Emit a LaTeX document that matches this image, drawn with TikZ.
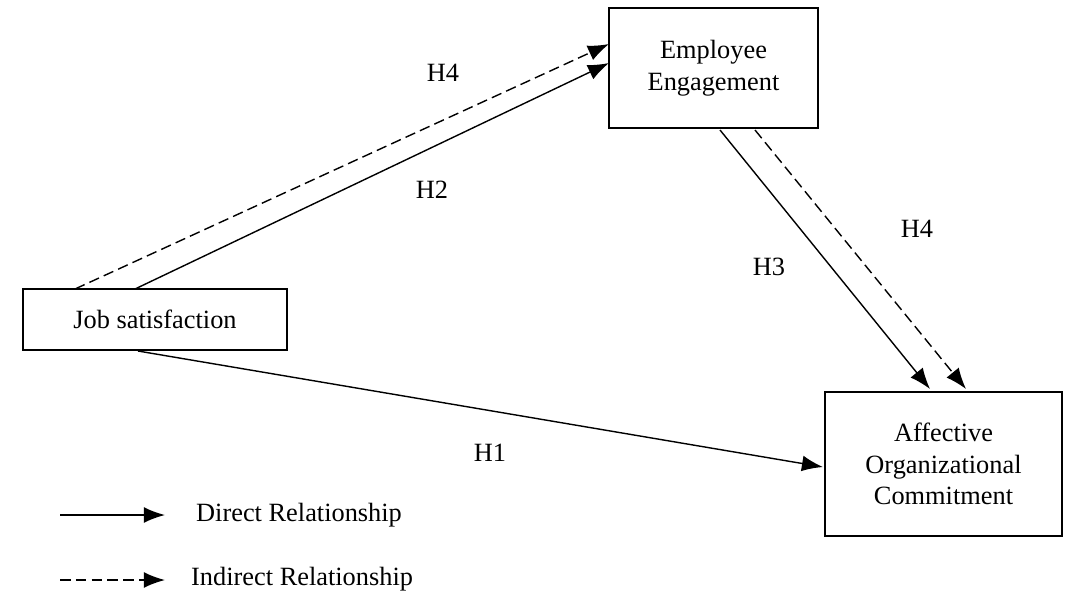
\documentclass[tikz,border=0pt]{standalone}
\usepackage{fontspec}
\setmainfont{Liberation Serif}
\usetikzlibrary{arrows.meta}

\begin{document}
\begin{tikzpicture}[%
        x = 0.02cm,
        y = -0.02cm,
        > = {Latex[length=12pt,width=9pt]},
        font = \fontsize{15}{18}\selectfont,
        box/.style = {draw, thick, align = center, inner sep = 0pt},
        direct/.style = {->, thick},
        indirect/.style = {->, thick, dashed, dash pattern = on 6pt off 3pt}
    ]

        % Fix the page to the reference size.
        \useasboundingbox (0, 0) rectangle (1081, 610);

        % The three constructs.
        \node[box, minimum width = 264*0.02cm, minimum height = 61*0.02cm]
            (job) at (155, 319.5) {Job satisfaction};
        \node[box, minimum width = 209*0.02cm, minimum height = 120*0.02cm]
            (eng) at (713.5, 68) {Employee\\Engagement};
        \node[box, minimum width = 237*0.02cm, minimum height = 144*0.02cm]
            (aoc) at (943.5, 464) {Affective\\Organizational\\Commitment};

        % Points where the connectors leave and meet the boxes.
        \coordinate (jobA) at (75, 289);
        \coordinate (jobB) at (135, 289);
        \coordinate (jobC) at (138, 351);
        \coordinate (engA) at (609, 44);
        \coordinate (engB) at (609, 63);
        \coordinate (engC) at (720, 130);
        \coordinate (engD) at (755, 130);
        \coordinate (aocA) at (930, 389);
        \coordinate (aocB) at (966, 389);
        \coordinate (aocC) at (823, 467);

        % Hypothesised paths.
        \draw[indirect] (jobA) to (engA);
        \draw[direct] (jobB) to (engB);
        \draw[direct] (engC) to (aocA);
        \draw[indirect] (engD) to (aocB);
        \draw[direct] (jobC) to (aocC);

        % Path labels.
        \node (h4a) at (443, 73) {H4};
        \node (h2) at (432, 190) {H2};
        \node (h3) at (769, 267) {H3};
        \node (h4b) at (917, 229) {H4};
        \node (h1) at (490, 453) {H1};

        % Legend.
        \coordinate (legA) at (60, 515);
        \coordinate (legB) at (165, 515);
        \coordinate (legC) at (60, 580);
        \coordinate (legD) at (165, 580);
        \draw[direct] (legA) to (legB);
        \draw[indirect] (legC) to (legD);
        \node[anchor = west] (direct) at (190, 515) {Direct Relationship};
        \node[anchor = west] (indirect) at (185, 579) {Indirect Relationship};
    \end{tikzpicture}
\end{document}
